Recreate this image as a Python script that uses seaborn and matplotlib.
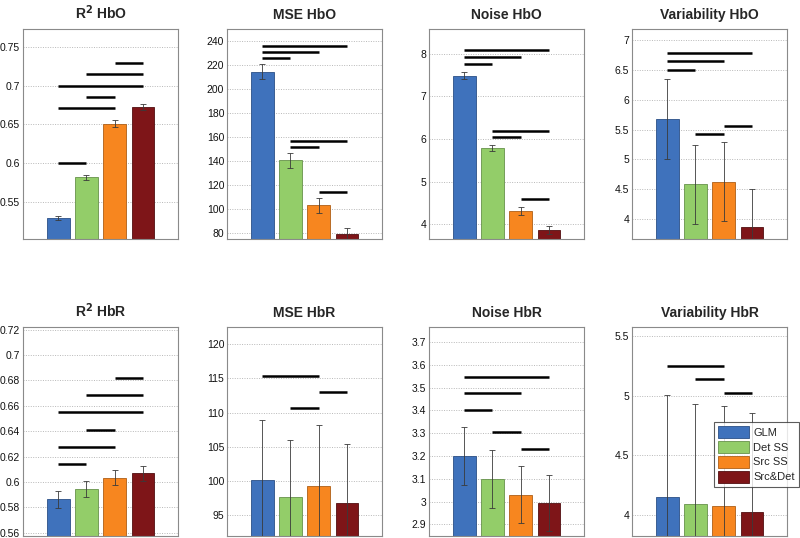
import numpy as np
import pandas as pd
import matplotlib
matplotlib.use("Agg")
import matplotlib.pyplot as plt
import seaborn as sns
from matplotlib.ticker import FuncFormatter
from matplotlib.patches import Patch

sns.set_theme(style="white")
plt.rcParams['font.family'] = ['Liberation Sans', 'DejaVu Sans']

methods = ["GLM", "Det SS", "Src SS", "Src&Det"]
palette = ["#3F72BC", "#93CD69", "#F7861F", "#7E1518"]
edges = ["#2B4F86", "#66924A", "#AE5E16", "#520E10"]

titles = [r"R$^{\mathbf{2}}$ HbO", "MSE HbO", "Noise HbO", "Variability HbO",
          r"R$^{\mathbf{2}}$ HbR", "MSE HbR", "Noise HbR", "Variability HbR"]

r2_hbo = [0.529, 0.5815, 0.651, 0.672]
r2_hbo_err = [0.003, 0.003, 0.004, 0.004]
mse_hbo = [214.5, 140.5, 103.0, 79.2]
mse_hbo_err = [6.0, 6.5, 6.0, 5.0]
noise_hbo = [7.49, 5.79, 4.32, 3.87]
noise_hbo_err = [0.09, 0.08, 0.1, 0.09]
var_hbo = [5.676, 4.584, 4.63, 3.87]
var_hbo_err = [0.67, 0.66, 0.66, 0.63]
r2_hbr = [0.5863, 0.5945, 0.6032, 0.6068]
r2_hbr_err = [0.0065, 0.006, 0.006, 0.006]
mse_hbr = [100.2, 97.7, 99.3, 96.8]
mse_hbr_err = [8.7, 8.3, 8.9, 8.6]
noise_hbr = [3.2, 3.1, 3.031, 2.994]
noise_hbr_err = [0.126, 0.128, 0.123, 0.123]
var_hbr = [4.156, 4.092, 4.075, 4.025]
var_hbr_err = [0.845, 0.84, 0.84, 0.83]

values = [r2_hbo, mse_hbo, noise_hbo, var_hbo, r2_hbr, mse_hbr, noise_hbr, var_hbr]
errors = [r2_hbo_err, mse_hbo_err, noise_hbo_err, var_hbo_err,
          r2_hbr_err, mse_hbr_err, noise_hbr_err, var_hbr_err]

ylims = [(0.502, 0.773), (75, 250), (3.66, 8.58), (3.67, 7.18),
         (0.5574, 0.7221), (92.0, 122.5), (2.849, 3.766), (3.827, 5.573)]
yticks = [[0.55, 0.6, 0.65, 0.7, 0.75],
          [80, 100, 120, 140, 160, 180, 200, 220, 240],
          [4, 5, 6, 7, 8],
          [4, 4.5, 5, 5.5, 6, 6.5, 7],
          [0.56, 0.58, 0.6, 0.62, 0.64, 0.66, 0.68, 0.7, 0.72],
          [95, 100, 105, 110, 115, 120],
          [2.9, 3.0, 3.1, 3.2, 3.3, 3.4, 3.5, 3.6, 3.7],
          [4, 4.5, 5, 5.5]]

# significance bars: (from method index, to method index, level)
sig_r2_hbo = [(2, 3, 0.729), (1, 3, 0.7147), (0, 3, 0.700), (1, 2, 0.6848), (0, 2, 0.6706), (0, 1, 0.600)]
sig_mse_hbo = [(0, 3, 236.1), (0, 2, 231.1), (0, 1, 226.1), (1, 3, 156.4), (1, 2, 151.9), (2, 3, 114.0)]
sig_noise_hbo = [(0, 3, 8.094), (0, 2, 7.93), (0, 1, 7.757), (1, 3, 6.2), (1, 2, 6.04), (2, 3, 4.59)]
sig_var_hbo = [(0, 3, 6.777), (0, 2, 6.637), (0, 1, 6.49), (2, 3, 5.56), (1, 2, 5.43)]
sig_r2_hbr = [(2, 3, 0.6818), (1, 3, 0.6684), (0, 3, 0.655), (1, 2, 0.6411), (0, 2, 0.6279), (0, 1, 0.6145)]
sig_mse_hbr = [(0, 2, 115.4), (2, 3, 113.0), (1, 2, 110.7)]
sig_noise_hbr = [(0, 3, 3.548), (0, 2, 3.475), (0, 1, 3.402), (1, 2, 3.304), (2, 3, 3.231)]
sig_var_hbr = [(0, 2, 5.247), (1, 2, 5.138), (2, 3, 5.022)]
sigs = [sig_r2_hbo, sig_mse_hbo, sig_noise_hbo, sig_var_hbo,
        sig_r2_hbr, sig_mse_hbr, sig_noise_hbr, sig_var_hbr]

fig = plt.figure(figsize=(8.0, 5.38), dpi=100)
W, H = 800.0, 538.0
lefts = [23, 227, 429, 632]
row_tops = [29, 327]
row_bottoms = [239, 536]
aw = 155

for i in range(8):
    r, c = divmod(i, 4)
    l = lefts[c]
    t, b = row_tops[r], row_bottoms[r]
    ax = fig.add_axes([l / W, 1 - b / H, aw / W, (b - t) / H])
    df = pd.DataFrame({"method": methods, "value": values[i]})
    sns.barplot(data=df, x="method", y="value", hue="method", palette=palette,
                order=methods, hue_order=methods, dodge=False, legend=False,
                errorbar=None, width=0.8, linewidth=0.6, saturation=1,
                ax=ax, zorder=2)
    for p, ec in zip(ax.patches, edges):
        p.set_edgecolor(ec)
    xs = np.arange(len(methods))
    ax.errorbar(xs, values[i], yerr=errors[i], fmt="none", ecolor="#3a3a3a",
                elinewidth=0.6, capsize=2, capthick=0.6, zorder=3)
    for a, bb, y in sigs[i]:
        ax.hlines(y, xs[a], xs[bb], colors="black", linewidth=1.8, zorder=4)
    ax.set_xlim(-1.25, 4.25)
    ax.set_ylim(*ylims[i])
    ax.set_yticks(yticks[i])
    ax.yaxis.set_major_formatter(FuncFormatter(lambda v, pos: f"{v:g}"))
    ax.set_xticks([])
    ax.set_xlabel("")
    ax.set_ylabel("")
    ax.grid(axis="y", linestyle=(0, (1, 1.5)), color="#b8b8b8", linewidth=0.7, zorder=0)
    ax.set_axisbelow(True)
    ax.tick_params(axis="y", length=0, labelsize=7.5, pad=2, labelcolor="#111111")
    for s in ax.spines.values():
        s.set_color("#8a8a8a")
        s.set_linewidth(0.8)
    ax.set_title(titles[i], fontsize=10, fontweight="bold", pad=7)
    if i == 7:
        handles = [Patch(facecolor=pc, edgecolor=ec, linewidth=0.6) for pc, ec in zip(palette, edges)]
        leg = ax.legend(handles, methods, loc="upper left",
                        bbox_to_anchor=(714 / W, 1 - 422 / H), bbox_transform=fig.transFigure,
                        fontsize=8, frameon=True, fancybox=False, handlelength=2.8,
                        handleheight=1.3, handletextpad=0.4, labelspacing=0.25,
                        borderpad=0.35, borderaxespad=0)
        leg.get_frame().set_edgecolor("#333333")
        leg.get_frame().set_linewidth(0.8)

fig.savefig("out.png", dpi=100)
